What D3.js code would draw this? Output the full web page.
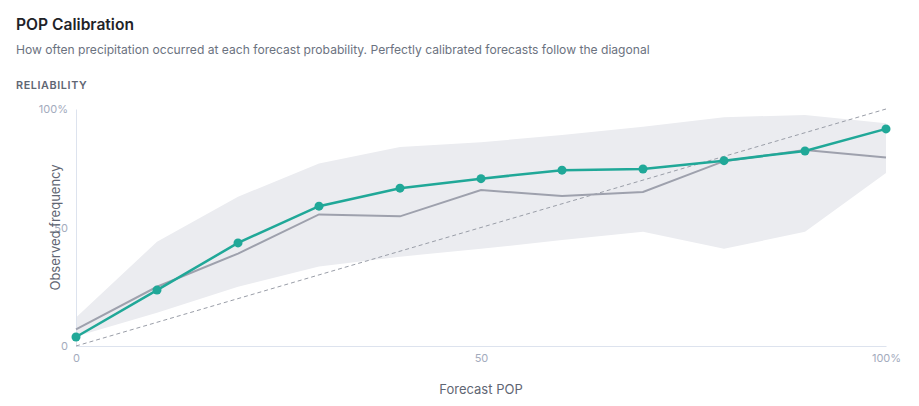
<!DOCTYPE html>
<html>
<head>
<meta charset="utf-8">
<script src="https://cdn.jsdelivr.net/npm/d3@7"></script>
<style>
  body { margin: 0; background: #fff; font-family: Inter, "Noto Sans", sans-serif; }
  .title { position: absolute; left: 16px; top: 15px; font-size: 15.6px; font-weight: 600; color: #1f2328; }
  .subtitle { position: absolute; left: 16px; top: 42px; font-size: 12.1px; color: #6b7280; }
  .section { position: absolute; left: 16px; top: 79px; font-size: 10.8px; font-weight: 600; letter-spacing: 0.6px; color: #5f6673; }
  svg { position: absolute; left: 0; top: 0; }
</style>
</head>
<body>
<div class="title">POP Calibration</div>
<div class="subtitle">How often precipitation occurred at each forecast probability. Perfectly calibrated forecasts follow the diagonal</div>
<div class="section">RELIABILITY</div>
<div id="chart"></div>
<script>
var forecast = [0, 10, 20, 30, 40, 50, 60, 70, 80, 90, 100];
var observed = [3.8, 23.6, 43.5, 59, 66.6, 70.6, 74.2, 74.7, 78.2, 82.3, 91.6];
var reference = [7, 25, 39, 55.5, 54.7, 65.8, 63.3, 65, 78, 82.7, 79.5];
var bandUpper = [12, 44, 63, 77, 84, 86, 89, 92.5, 96.5, 97.5, 94];
var bandLower = [4, 14, 25, 33.5, 37.7, 41, 44.7, 48.2, 41, 48.2, 73];
var tickValues = [0, 50, 100];

var width = 919, height = 406;
var margin = { top: 109, right: 33, bottom: 60, left: 76 };

var svg = d3.select("#chart").append("svg").attr("width", width).attr("height", height);

var x = d3.scaleLinear().domain([0, 100]).range([margin.left, width - margin.right]);
var y = d3.scaleLinear().domain([0, 100]).range([height - margin.bottom, margin.top]);

var fmt = (d) => d === 100 ? "100%" : String(d);

//shaded band
var area = d3.area()
    .x((d, i) => x(forecast[i]))
    .y0((d, i) => y(bandLower[i]))
    .y1((d, i) => y(bandUpper[i]));
svg.append("path")
    .datum(forecast)
    .attr("d", area)
    .attr("fill", "#ebecf0");

//axes
var xAxis = svg.append("g")
    .attr("transform", "translate(0," + y(0) + ")")
    .call(d3.axisBottom(x).tickValues(tickValues).tickFormat(fmt).tickSize(0).tickPadding(8));
var yAxis = svg.append("g")
    .attr("transform", "translate(" + x(0) + ",0)")
    .call(d3.axisLeft(y).tickValues(tickValues).tickFormat(fmt).tickSize(0).tickPadding(8));
[xAxis, yAxis].forEach(function(g) {
    g.select(".domain").attr("stroke", "#dde3ee");
    g.selectAll("text").attr("fill", "#a3abbd").style("font-size", "11px").style("font-family", "Inter, sans-serif");
});

//diagonal
svg.append("line")
    .attr("x1", x(0)).attr("y1", y(0))
    .attr("x2", x(100)).attr("y2", y(100))
    .attr("stroke", "#9a9ea8")
    .attr("stroke-width", 1)
    .attr("stroke-dasharray", "4,3");

//reference line
var refLine = d3.line().x((d, i) => x(forecast[i])).y((d) => y(d));
svg.append("path")
    .datum(reference)
    .attr("d", refLine)
    .attr("fill", "none")
    .attr("stroke", "#9ea1ad")
    .attr("stroke-width", 2);

//observed line
svg.append("path")
    .datum(observed)
    .attr("d", refLine)
    .attr("fill", "none")
    .attr("stroke", "#20a898")
    .attr("stroke-width", 2.5);

svg.selectAll(".dot")
    .data(observed)
    .enter()
    .append("circle")
    .attr("cx", (d, i) => x(forecast[i]))
    .attr("cy", (d) => y(d))
    .attr("r", 4.5)
    .attr("fill", "#20a898");

//axis titles
svg.append("text")
    .attr("x", x(50))
    .attr("y", 394)
    .attr("text-anchor", "middle")
    .attr("fill", "#5f6673")
    .style("font-size", "13px")
    .text("Forecast POP");

svg.append("text")
    .attr("transform", "translate(60," + y(50) + ") rotate(-90)")
    .attr("text-anchor", "middle")
    .attr("fill", "#5f6673")
    .style("font-size", "13px")
    .text("Observed frequency");
</script>
</body>
</html>
